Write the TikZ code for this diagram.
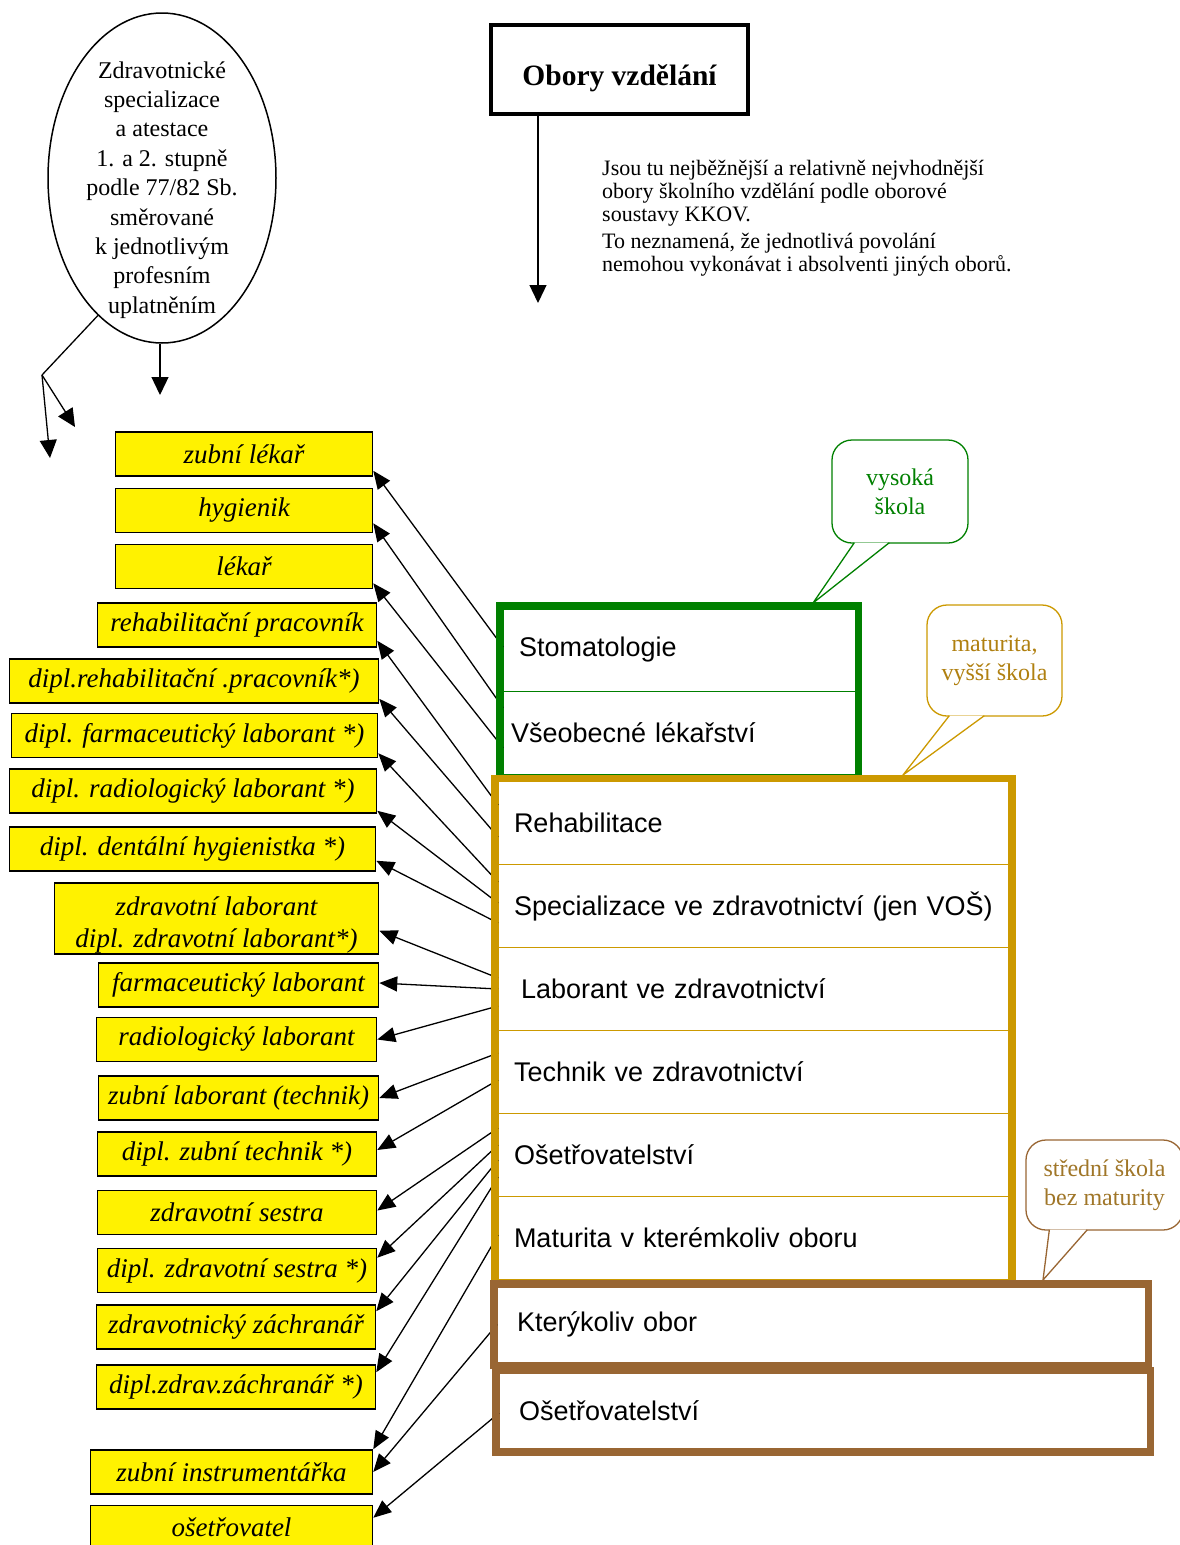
\documentclass[tikz,border=0pt]{standalone}
\usepackage{fontspec}
\setmainfont{Liberation Serif}
\setsansfont{Liberation Sans}
\usetikzlibrary{arrows.meta,positioning,shapes.geometric,fit}

\definecolor{vsgreen}{RGB}{0,128,0}
\definecolor{vosgold}{RGB}{204,153,0}
\definecolor{sosbrown}{RGB}{153,102,51}
\definecolor{vostext}{RGB}{176,128,16}
\definecolor{sostext}{RGB}{160,118,40}

\tikzset{
  job/.style={draw,fill=yellow,line width=1.5pt,inner xsep=1pt,inner ysep=0pt,minimum height=44pt,align=center,font=\fontsize{27}{31}\selectfont\itshape},
  obor/.style={draw=#1,outer sep=0pt,inner xsep=16pt,align=left,font=\sffamily\fontsize{27}{31}\selectfont},
  vsrow/.style={obor=vsgreen,line width=1pt,text width=320pt,minimum height=82pt},
  vosrow/.style={obor=vosgold,line width=1.5pt,text width=479pt,minimum height=83pt},
  sosrow/.style={obor=sosbrown,line width=1pt,text width=616pt,minimum height=75pt},
  oborframe/.style={draw=#1,line width=7pt,inner sep=3.5pt},
  calloutbox/.style={draw=#1,text=#1,line width=1.3pt,rounded corners=20pt,fill=white,align=center,font=\fontsize{24}{29}\selectfont},
  calloutptr/.style={draw=#1,line width=1.3pt,fill=white},
  conn/.style={-{Triangle[length=18pt,width=15pt]},line width=1.3pt}
}

\begin{document}
\begin{tikzpicture}[x=1pt,y=-1pt]
    \useasboundingbox (0,0) rectangle (1179,1545);

    \node (specell) [ellipse,draw,line width=1.5pt,minimum width=228pt,minimum height=330pt,inner sep=0pt,
        label={[align=center,font=\fontsize{24}{29.4}\selectfont,yshift=-12pt]center:{Zdravotnické\\specializace\\a atestace\\1. a 2. stupně\\podle 77/82 Sb.\\směrované\\k jednotlivým\\profesním\\uplatněním}}] at (162,178) {};
    \node (obory) [draw,line width=4pt,minimum width=257pt,minimum height=89pt,text height=38pt,text depth=6pt,font=\bfseries\fontsize{29.5}{32}\selectfont] at (619.5,69.5) {Obory vzdělání};
    \node (kkov) [anchor=north west,align=left,inner sep=0pt,font=\fontsize{22}{23}\selectfont] at (602,160) {Jsou tu nejběžnější a relativně nejvhodnější\\obory školního vzdělání podle oborové\\soustavy KKOV.\\[4pt]To neznamená, že jednotlivá povolání\\nemohou vykonávat i absolventi jiných oborů.};

    \coordinate (oboryend) at (538,303);
    \coordinate (specend) at (160,395);
    \coordinate (fork) at (42,375);
    \coordinate (forkleft) at (50,458);
    \coordinate (forkright) at (75,427);

    \draw[-{Triangle[length=18pt,width=17pt]},line width=1.3pt] (obory.south -| oboryend) -- (oboryend);
    \draw[-{Triangle[length=18pt,width=17pt]},line width=1.3pt] (specell.south -| specend) -- (specend);
    \draw[line width=1.3pt] (specell.245) -- (fork);
    \draw[-{Triangle[length=18pt,width=17pt]},line width=1.3pt] (fork) -- (forkleft);
    \draw[-{Triangle[length=18pt,width=17pt]},line width=1.3pt] (fork) -- (forkright);

    \node (zubl) [job,minimum width=257pt] at (244,454) {zubní lékař};
    \node (hyg) [job,minimum width=257pt] at (244,510.5) {hygienik};
    \node (lek) [job,minimum width=257pt] at (244,566.5) {lékař};
    \node (rehp) [job,minimum width=279pt] at (237,625) {rehabilitační pracovník};
    \node (drehp) [job,minimum width=369pt] at (194,681) {dipl.rehabilitační .pracovník*)};
    \node (dfarm) [job,minimum width=366pt] at (194.5,735.5) {dipl. farmaceutický laborant *)};
    \node (drad) [job,minimum width=367pt] at (193,791) {dipl. radiologický laborant *)};
    \node (ddent) [job,minimum width=366pt] at (192.5,849) {dipl. dentální hygienistka *)};
    \node (zlab) [job,minimum width=324pt,minimum height=71pt,text height=64pt,font=\fontsize{27}{32}\selectfont\itshape] at (216.5,918.5) {zdravotní laborant\\dipl. zdravotní laborant*)};
    \node (flab) [job,minimum width=280pt] at (238.5,985) {farmaceutický laborant};
    \node (rlab) [job,minimum width=280pt] at (236.5,1039.5) {radiologický laborant};
    \node (zublab) [job,minimum width=280pt] at (238.5,1098) {zubní laborant (technik)};
    \node (dztech) [job,minimum width=279pt] at (237,1154) {dipl. zubní technik *)};
    \node (zsestra) [job,minimum width=279pt] at (237,1212.5) {zdravotní sestra};
    \node (dzsestra) [job,minimum width=279pt] at (237,1270.5) {dipl. zdravotní sestra *)};
    \node (zachr) [job,minimum width=279pt] at (236,1327) {zdravotnický záchranář};
    \node (dzachr) [job,minimum width=279pt] at (236,1387) {dipl.zdrav.záchranář *)};
    \node (instr) [job,minimum width=282pt] at (231.5,1472) {zubní instrumentářka};
    \node (osetr) [job,minimum width=282pt] at (231.5,1527.5) {ošetřovatel};

    \node (stoma) [vsrow] at (679,650) {Stomatologie};
    \node (vseob) [vsrow,minimum height=83.5pt,below=0pt of stoma] {\hspace*{-8pt}Všeobecné lékařství};
    \node (rehab) [vosrow] at (753.5,823) {Rehabilitace};
    \node (spec) [vosrow,below=0pt of rehab] {Specializace ve zdravotnictví (jen VOŠ)};
    \node (labor) [vosrow,below=0pt of spec] {\hspace*{7pt}Laborant ve zdravotnictví};
    \node (techn) [vosrow,below=0pt of labor] {Technik ve zdravotnictví};
    \node (oset) [vosrow,below=0pt of techn] {Ošetřovatelství};
    \node (matur) [vosrow,below=0pt of oset] {Maturita v kterémkoliv oboru};
    \node (ktery) [sosrow] at (821,1324.5) {\hspace*{4pt}Kterýkoliv obor};
    \node (osetb) [sosrow] at (823,1411) {\hspace*{4pt}Ošetřovatelství};

    \draw[conn] ([yshift=3pt]stoma.west) -- ([yshift=6pt]zubl.south east);
    \draw[conn] ([yshift=25pt]vseob.west) -- ([yshift=10pt]hyg.south east);
    \draw[conn] ([yshift=-15pt]vseob.west) -- ([yshift=6pt]lek.south east);
    \draw[conn] ([yshift=18pt]rehab.west) -- ([yshift=7pt]rehp.south east);
    \draw[conn] ([yshift=-14pt]rehab.west) -- ([yshift=5pt]drehp.south east);
    \draw[conn] ([yshift=24pt]spec.west) -- ([yshift=5pt]dfarm.south east);
    \draw[conn] ([yshift=3pt]spec.west) -- ([yshift=3pt]drad.south east);
    \draw[conn] ([yshift=-17pt]spec.west) -- ([yshift=11pt]ddent.south east);
    \draw[conn] ([yshift=11pt]labor.west) -- ([yshift=24pt]zlab.south east);
    \draw[conn] (labor.west) -- ([yshift=2pt]flab.east);
    \draw[conn] ([yshift=-17pt]labor.west) -- (rlab.east);
    \draw[conn] ([yshift=19pt]techn.west) -- (zublab.east);
    \draw[conn] ([yshift=-8pt]techn.west) -- ([yshift=4pt]dztech.east);
    \draw[conn] ([yshift=27pt]oset.west) -- ([yshift=2pt]zsestra.east);
    \draw[conn] ([yshift=10pt]oset.west) -- ([yshift=-10pt]dzsestra.north east);
    \draw[conn] ([yshift=-5pt]oset.west) -- ([yshift=-7pt]zachr.north east);
    \draw[conn] ([yshift=-22pt]oset.west) -- ([yshift=-8pt]dzachr.north east);
    \draw[conn] ([yshift=3pt]matur.west) -- (instr.north east);
    \draw[conn] (ktery.west) -- (instr.east);
    \draw[conn] ([yshift=-2pt]osetb.west) -- ([yshift=-13pt]osetr.north east);

    \node (vsframe) [oborframe=vsgreen,fit=(stoma)(vseob)] {};
    \node (vosframe) [oborframe=vosgold,fit=(rehab)(matur)] {};
    \node (sosframe) [oborframe=sosbrown,fit=(ktery)] {};
    \node (sosframeb) [oborframe=sosbrown,fit=(osetb)] {};

    \node (vsnote) [calloutbox=vsgreen,minimum width=136pt,minimum height=103pt] at (900,491.5) {vysoká\\škola};
    \node (vosnote) [calloutbox=vosgold,text=vostext,minimum width=135pt,minimum height=111pt] at (994.5,660.5) {maturita,\\vyšší škola};
    \node (sosnote) [calloutbox=sosbrown,text=sostext,minimum width=157pt,minimum height=90pt] at (1104.5,1185) {střední škola\\bez maturity};

    \coordinate (vstip) at (813,603);
    \coordinate (vostip) at (903,775);
    \coordinate (sostip) at (1043,1280);

    \draw[calloutptr=vsgreen] ([xshift=23pt,yshift=1pt]vsnote.south west) -- (vstip) -- ([xshift=58pt,yshift=1pt]vsnote.south west);
    \draw[calloutptr=vosgold] ([xshift=23pt,yshift=1pt]vosnote.south west) -- (vostip) -- ([xshift=58pt,yshift=1pt]vosnote.south west);
    \draw[calloutptr=sosbrown] ([xshift=24pt,yshift=1pt]sosnote.south west) -- (sostip) -- ([xshift=62pt,yshift=1pt]sosnote.south west);

\end{tikzpicture}
\end{document}
